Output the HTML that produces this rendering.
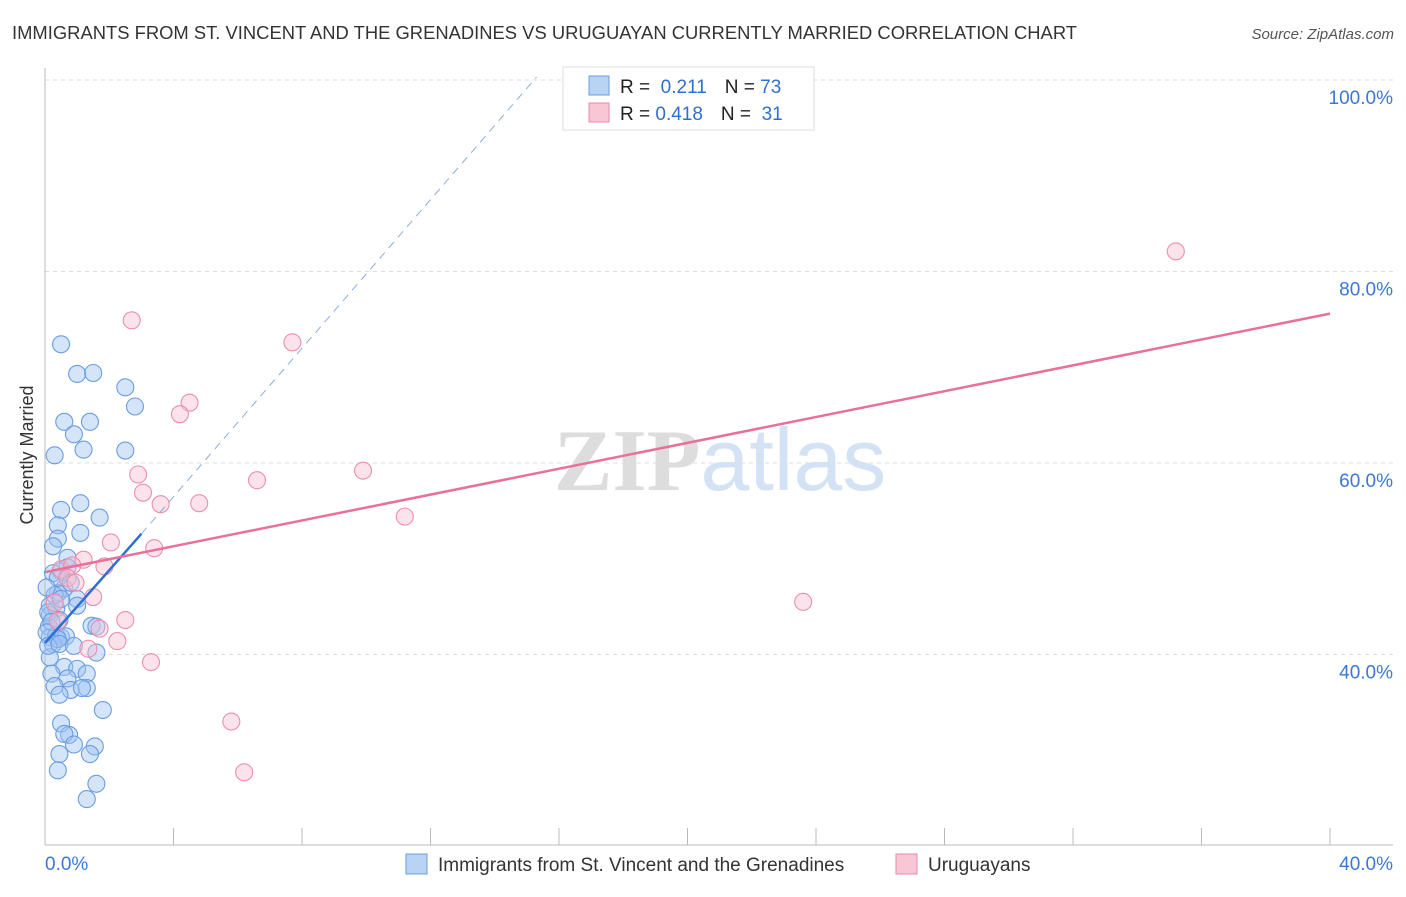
<!DOCTYPE html>
<html><head><meta charset="utf-8"><style>
body{margin:0;background:#fff;font-family:"Liberation Sans",sans-serif;}
svg text{font-family:"Liberation Sans",sans-serif;}
</style></head><body>
<svg id="c" width="1406" height="892" xmlns="http://www.w3.org/2000/svg">
<text x="12" y="39" font-size="18" fill="#333" textLength="1065" lengthAdjust="spacingAndGlyphs">IMMIGRANTS FROM ST. VINCENT AND THE GRENADINES VS URUGUAYAN CURRENTLY MARRIED CORRELATION CHART</text>
<text x="1394" y="39" font-size="15" fill="#555" font-style="italic" text-anchor="end">Source: ZipAtlas.com</text>
<text x="720" y="490" font-size="88" text-anchor="middle"><tspan fill="#ddd" font-family="Liberation Serif" font-weight="bold">ZIP</tspan><tspan fill="#d3e2f5">atlas</tspan></text>
<g id="grid"></g><g id="marks"></g>
<g>
<rect x="563" y="67" width="251" height="63" fill="#fff" stroke="#ddd"/>
<rect x="589" y="76" width="20" height="19" fill="#b9d3f5" stroke="#6a9de0"/>
<rect x="589" y="103" width="20" height="19" fill="#f9c6d5" stroke="#e889a8"/>
<text x="620" y="93" font-size="19" fill="#222">R = <tspan fill="#2f6fd0">&#160;0.211</tspan><tspan dx="18">N = </tspan><tspan fill="#2f6fd0">73</tspan></text>
<text x="620" y="120" font-size="19" fill="#222">R = <tspan fill="#2f6fd0">0.418</tspan><tspan dx="18">N = </tspan><tspan fill="#2f6fd0">&#160;31</tspan></text>
</g>
<text transform="translate(33,455) rotate(-90)" font-size="18" fill="#333" text-anchor="middle">Currently Married</text>
<g>
<rect x="406" y="854" width="21" height="20" fill="#b9d3f5" stroke="#6a9de0"/>
<text x="438" y="871" font-size="19" fill="#333">Immigrants from St. Vincent and the Grenadines</text>
<rect x="896" y="854" width="21" height="20" fill="#f9c6d5" stroke="#e889a8"/>
<text x="928" y="871" font-size="19" fill="#333">Uruguayans</text>
</g>
</svg>
<script>
const yTicks=[100,80,60,40];
const yTickLabels=["100.0%","80.0%","60.0%","40.0%"];
const xTickLabels=["0.0%","40.0%"];
const blueX=[0.5,1.0,1.5,2.5,2.8,0.6,1.4,0.9,1.2,2.5,0.3,1.1,0.5,1.7,0.4,1.1,0.4,0.25,0.7,0.5,0.25,0.7,0.6,0.4,1.0,0.15,0.35,1.0,0.15,0.45,0.12,0.15,0.35,0.5,0.65,1.45,1.6,0.25,0.4,1.6,0.15,0.6,1.0,1.3,0.2,0.7,1.3,0.3,0.8,1.15,0.45,1.8,0.5,0.75,0.6,0.9,1.55,1.4,0.45,0.4,1.6,1.3,0.1,0.2,0.05,0.4,0.8,0.3,0.5,0.1,0.45,0.05,0.9];
const blueY=[72.4,69.3,69.4,67.9,65.9,64.3,64.3,63.0,61.4,61.3,60.8,55.8,55.1,54.3,53.5,52.7,52.1,51.3,50.1,48.7,48.5,49.1,46.9,46.4,45.8,45.1,44.8,45.1,44.1,43.6,42.9,41.8,42.0,41.8,41.9,43.0,42.9,41.1,41.6,40.2,39.7,38.7,38.5,38.0,38.0,37.5,36.5,36.7,36.3,36.5,35.8,34.2,32.8,31.6,31.7,30.6,30.4,29.6,29.6,27.9,26.5,24.9,44.4,43.4,42.3,48.0,47.5,46.2,45.8,40.9,41.1,47.0,40.9];
const pinkX=[35.2,2.7,7.7,4.5,4.2,9.9,2.9,6.6,3.05,4.8,3.6,11.2,2.05,3.4,1.2,0.5,0.85,1.85,0.7,0.95,1.5,0.3,0.4,2.5,1.7,1.35,2.25,3.3,23.6,5.8,6.2];
const pinkY=[82.1,74.9,72.6,66.3,65.1,59.2,58.8,58.2,56.9,55.8,55.7,54.4,51.7,51.1,49.9,48.9,49.3,49.2,48.0,47.5,46.0,45.4,43.5,43.6,42.7,40.6,41.4,39.2,45.5,33.0,27.7];
const blueTrend=[[0,41.2],[3.0,52.6]];
const blueDash=[[3.0,52.6],[15.3,100.3]];
const pinkTrend=[[0,48.6],[40,75.6]];
const X=v=>45+v/40*1285, Y=v=>80+(100-v)/20*191.5;
const NS="http://www.w3.org/2000/svg";
function mk(p,t,a){const e=document.createElementNS(NS,t);for(const k in a)e.setAttribute(k,a[k]);p.appendChild(e);return e;}
const g=document.getElementById('grid'),m=document.getElementById('marks');
yTicks.forEach((v,i)=>{const l=mk(g,'line',{x1:45,x2:1393,y1:Y(v),y2:Y(v),stroke:'#ddd','stroke-dasharray':'4,4'});


const t=mk(g,'text',{x:1393,y:Y(v)+24,'font-size':19,fill:'#3b78d6','text-anchor':'end'});t.textContent=yTickLabels[i];

});
const ax=mk(g,'line',{x1:45,x2:1393,y1:845,y2:845,stroke:'#bbb'});


const ay=mk(g,'line',{x1:45,x2:45,y1:68,y2:845,stroke:'#bbb'});


for(let i=1;i<=10;i++){const t=mk(g,'line',{x1:X(i*4),x2:X(i*4),y1:828,y2:845,stroke:'#bbb'});

}
[[0,'start',45],[40,'end',1393]].forEach((d,i)=>{const t=mk(g,'text',{x:d[2],y:870,'font-size':19,fill:'#3b78d6','text-anchor':d[1]});t.textContent=xTickLabels[i];

});
blueX.forEach((v,i)=>{const c=mk(m,'circle',{cx:X(v),cy:Y(blueY[i]),r:8.5,fill:'rgba(160,196,242,0.45)',stroke:'#6a9de0','stroke-width':1.1});

});
pinkX.forEach((v,i)=>{const c=mk(m,'circle',{cx:X(v),cy:Y(pinkY[i]),r:8.5,fill:'rgba(248,190,208,0.45)',stroke:'#eb8fae','stroke-width':1.1});

});
let l=mk(m,'line',{x1:X(blueDash[0][0]),y1:Y(blueDash[0][1]),x2:X(blueDash[1][0]),y2:Y(blueDash[1][1]),stroke:'#8aaee0','stroke-width':1,'stroke-dasharray':'8,6'});


l=mk(m,'line',{x1:X(blueTrend[0][0]),y1:Y(blueTrend[0][1]),x2:X(blueTrend[1][0]),y2:Y(blueTrend[1][1]),stroke:'#2b6fd6','stroke-width':2.5});


l=mk(m,'line',{x1:X(pinkTrend[0][0]),y1:Y(pinkTrend[0][1]),x2:X(pinkTrend[1][0]),y2:Y(pinkTrend[1][1]),stroke:'#e8709a','stroke-width':2.5});


</script>
</body></html>
